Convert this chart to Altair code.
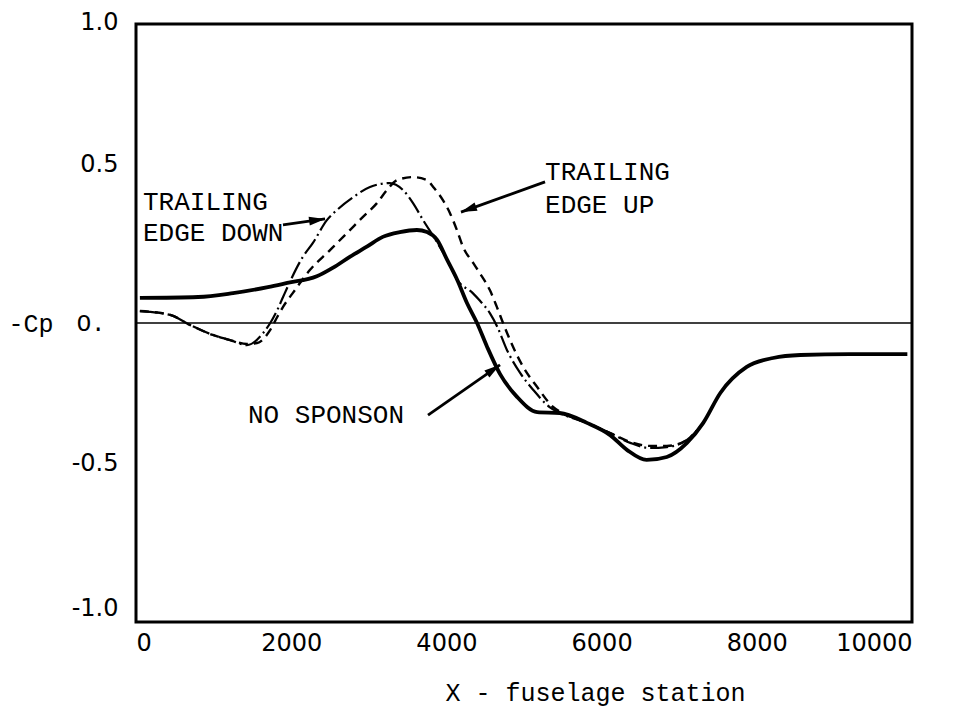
import math
import altair as alt
import pandas as pd

# ---- data ----
ns_x = [50, 800, 1250, 1700, 1950, 2330, 2540, 2760, 2980, 3180, 3400, 3620, 3750, 3880,
        4010, 4140, 4265, 4395, 4525, 4690, 4910, 5170, 5460, 5810, 6110, 6330, 6580,
        6840, 7100, 7310, 7530, 7870, 8210, 8560, 9200, 9940]
ns_y = [0.084, 0.087, 0.100, 0.120, 0.134, 0.156, 0.185, 0.222, 0.256, 0.288, 0.304, 0.311,
        0.304, 0.278, 0.211, 0.144, 0.067, 0.000, -0.080, -0.170, -0.247, -0.298, -0.301,
        -0.334, -0.375, -0.425, -0.458, -0.448, -0.401, -0.334, -0.234, -0.147, -0.117,
        -0.107, -0.104, -0.104]

ted_x = [50, 440, 700, 990, 1210, 1430, 1640, 1730, 1820, 1895, 2150, 2280, 2460, 2590, 2800,
         3015, 3270, 3440, 3570, 3700, 3880, 4010, 4140, 4340, 4430, 4560, 4660, 4780, 4950,
         5120, 5330, 5460, 5810, 6110, 6370, 6620, 6840, 7100, 7310]
ted_y = [0.040, 0.027, -0.007, -0.040, -0.057, -0.074, -0.033, 0.000, 0.043, 0.087, 0.221,
         0.268, 0.344, 0.378, 0.421, 0.455, 0.468, 0.445, 0.401, 0.344, 0.270, 0.211, 0.144,
         0.100, 0.075, 0.033, -0.015, -0.090, -0.167, -0.224, -0.281, -0.301, -0.334, -0.368,
         -0.401, -0.418, -0.415, -0.391, -0.334]

teu_x = [50, 440, 700, 990, 1210, 1430, 1560, 1730, 1820, 1895, 2020, 2240, 2500, 2720, 2925,
         3105, 3235, 3365, 3570, 3750, 3830, 3955, 4045, 4135, 4215, 4345, 4430, 4560, 4650,
         4730, 4820, 4990, 5170, 5375, 5500, 5810, 6110, 6370, 6620, 6840, 7100, 7310]
teu_y = [0.040, 0.027, -0.007, -0.040, -0.057, -0.070, -0.067, -0.023, 0.020, 0.054, 0.100,
         0.177, 0.244, 0.301, 0.355, 0.401, 0.445, 0.478, 0.488, 0.478, 0.455, 0.411, 0.368,
         0.311, 0.254, 0.201, 0.167, 0.110, 0.054, 0.000, -0.057, -0.147, -0.214, -0.281,
         -0.301, -0.334, -0.368, -0.398, -0.411, -0.411, -0.391, -0.334]

ann_text = ["TRAILING", "EDGE DOWN", "TRAILING", "EDGE UP", "NO SPONSON"]
ann_x = [90, 90, 5271, 5271, 1443]
ann_y = [0.405, 0.301, 0.505, 0.395, -0.308]

arr_x0 = [1894, 5271, 3763]
arr_y0 = [0.328, 0.472, -0.308]
arr_x1 = [2436, 4188, 4691]
arr_y1 = [0.348, 0.371, -0.140]

W, H = 776, 598
XD = [0, 10000]
YD = [-1, 1]
px_x = W / (XD[1] - XD[0])
px_y = H / (YD[1] - YD[0])

angles = []
for a, b, c, d in zip(arr_x0, arr_y0, arr_x1, arr_y1):
    pdx = (c - a) * px_x
    pdy = -(d - b) * px_y
    ang = math.degrees(math.atan2(pdx, -pdy)) % 360
    angles.append(ang)

ns = pd.DataFrame({"x": ns_x, "y": ns_y})
ted = pd.DataFrame({"x": ted_x, "y": ted_y})
teu = pd.DataFrame({"x": teu_x, "y": teu_y})
ann = pd.DataFrame({"t": ann_text, "x": ann_x, "y": ann_y})
arr = pd.DataFrame({"x0": arr_x0, "y0": arr_y0, "x1": arr_x1, "y1": arr_y1, "ang": angles})
zero = pd.DataFrame({"y": [0]})

mono = "Liberation Mono"
sans = "DejaVu Sans"

xscale = alt.Scale(domain=XD, nice=False, zero=False)
yscale = alt.Scale(domain=YD, nice=False, zero=False)

xaxis = alt.Axis(
    values=[0, 2000, 4000, 6000, 8000, 10000],
    format="d",
    labelFont=sans, labelFontSize=24, labelColor="black",
    labelPadding=9, ticks=False, tickSize=0, domain=False, grid=False,
    title="X - fuselage station", titleFont=mono, titleFontSize=25,
    titleFontWeight="normal", titleColor="black",
    titleX=459, titleY=70, titleBaseline="middle", titleAlign="center",
)

yaxis = alt.Axis(
    values=[-1, -0.5, 0, 0.5, 1],
    labelExpr="datum.value == 0 ? 'O.' : replace(format(datum.value, '.1f'), '\u2212', '-')",
    labelFont={"condition": {"test": "datum.value == 0", "value": mono}, "value": sans},
    labelFontSize=24, labelColor="black",
    labelPadding={"condition": {"test": "datum.value == 0", "value": 31}, "value": 18},
    labelOffset={
        "condition": [
            {"test": "datum.value == 0", "value": 0},
            {"test": "datum.value == 1", "value": -2},
            {"test": "datum.value == -1", "value": -14},
        ],
        "value": -9,
    },
    ticks=False, tickSize=0, domain=False, grid=False,
    title="-Cp", titleFont=mono, titleFontSize=25, titleFontWeight="normal",
    titleColor="black", titleAngle=0, titleX=-128, titleY=299,
    titleAlign="left", titleBaseline="middle",
)

base_x = alt.X("x:Q", scale=xscale, axis=xaxis)
base_y = alt.Y("y:Q", scale=yscale, axis=yaxis)

zero_line = alt.Chart(zero).mark_rule(color="black", strokeWidth=1.5).encode(
    y=alt.Y("y:Q", scale=yscale, axis=yaxis)
)

line_ns = alt.Chart(ns).mark_line(color="black", strokeWidth=3.8, interpolate="monotone").encode(
    x=base_x, y=base_y
)
line_ted = alt.Chart(ted).mark_line(
    color="black", strokeWidth=2.2, interpolate="monotone", strokeDash=[18, 4, 2, 4]
).encode(x=base_x, y=base_y)
line_teu = alt.Chart(teu).mark_line(
    color="black", strokeWidth=2.4, interpolate="monotone", strokeDash=[9, 6]
).encode(x=base_x, y=base_y)

texts = alt.Chart(ann).mark_text(
    font=mono, fontSize=26, align="left", baseline="middle", color="black"
).encode(
    x=alt.X("x:Q", scale=xscale, axis=xaxis),
    y=alt.Y("y:Q", scale=yscale, axis=yaxis),
    text="t:N",
)

arrow_lines = alt.Chart(arr).mark_rule(color="black", strokeWidth=2.8).encode(
    x=alt.X("x0:Q", scale=xscale, axis=xaxis),
    y=alt.Y("y0:Q", scale=yscale, axis=yaxis),
    x2="x1:Q",
    y2="y1:Q",
)

arrow_heads = alt.Chart(arr).mark_point(
    shape="M0,0 L0.55,2 L-0.55,2 Z", filled=True, color="black", opacity=1, size=256,
    strokeWidth=0,
).encode(
    x=alt.X("x1:Q", scale=xscale, axis=xaxis),
    y=alt.Y("y1:Q", scale=yscale, axis=yaxis),
    angle=alt.Angle("ang:Q", scale=None),
)

chart = alt.layer(
    zero_line, line_ns, line_ted, line_teu, texts, arrow_lines, arrow_heads
).properties(
    width=W, height=H,
    autosize=alt.AutoSizeParams(type="none"),
    padding={"left": 128, "top": 16, "right": 39, "bottom": 90},
    background="white",
).configure_view(
    stroke="black", strokeWidth=3
)

chart.save("out.html", embed_options={"renderer": "svg", "actions": False})
